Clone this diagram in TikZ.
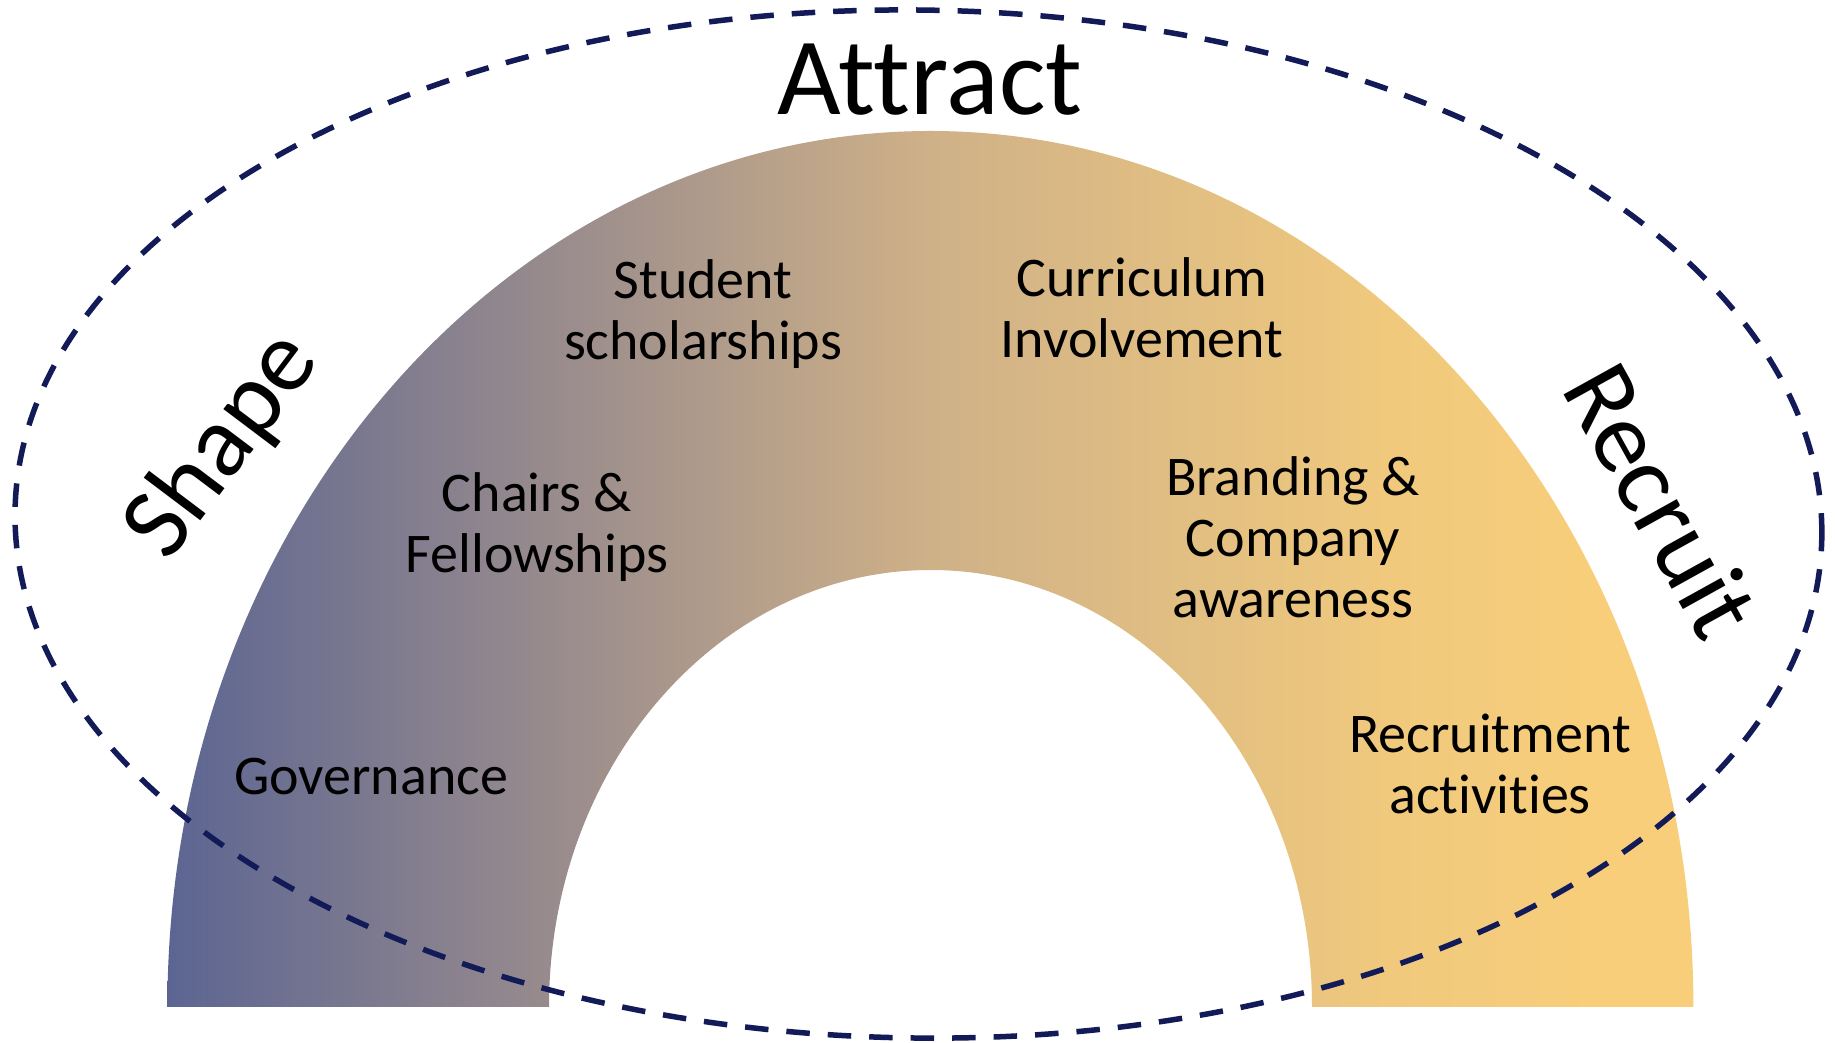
\documentclass[tikz,border=0pt]{standalone}
\usepackage{fontspec}
\setmainfont{Carlito}[Ligatures={NoCommon},RawFeature={-calt}]
\definecolor{gA}{RGB}{92,101,146}
\definecolor{gB}{RGB}{152,139,141}
\definecolor{gC}{RGB}{207,177,136}
\definecolor{gD}{RGB}{240,201,125}
\definecolor{gE}{RGB}{248,206,122}
\definecolor{navy}{RGB}{18,27,87}
\pgfdeclarehorizontalshading{archshade}{100bp}{color(0bp)=(gA); color(25bp)=(gA); color(37.5bp)=(gB); color(50bp)=(gC); color(65bp)=(gD); color(72bp)=(gE); color(100bp)=(gE)}
\tikzset{
  lbl/.style={font=\fontsize{56}{61}\selectfont, align=center, inner sep=0pt, text=black},
  big/.style={font=\fontsize{110}{113}\selectfont, inner sep=0pt, text=black},
  side/.style={font=\fontsize{102}{106}\selectfont, inner sep=0pt, text=black},
  ring/.style={draw=navy, line width=5.5pt, dash pattern=on 23.5pt off 18pt}
}
\begin{document}
\begin{tikzpicture}[x=1pt,y=1pt]
\useasboundingbox (0,0) rectangle (1835,1043);
\fill[white] (0,0) rectangle (1835,1043);
% arch
\shade[shading=archshade] (167.4,36) arc[start angle=180,end angle=0,x radius=763,y radius=876]
  -- (1312,36) arc[start angle=0,end angle=180,x radius=381.5,y radius=437] -- cycle;
% dashed ellipse
\coordinate (ec) at (918.5,519);
\draw[ring, rotate around={-0.8:(ec)}] (ec) ellipse[x radius=903.5, y radius=514];
% labels
\node[big] (attract) at (930,963) {Attract};
\node[side, rotate=53] (shape) at (223,597) {Shape};
\node[side, rotate=-61] (recruit) at (1662,543) {Recruit};
\node[lbl] (student) at (703,729) {Student\\scholarships};
\node[lbl] (curriculum) at (1142,735) {Curriculum\\Involvement};
\node[lbl] (chairs) at (537,516) {Chairs \&\\Fellowships};
\node[lbl] (branding) at (1293,506) {Branding \&\\Company\\awareness};
\node[lbl] (governance) at (371,266) {Governance};
\node[lbl] (recruitment) at (1490,279) {Recruitment\\activities};
\end{tikzpicture}
\end{document}
